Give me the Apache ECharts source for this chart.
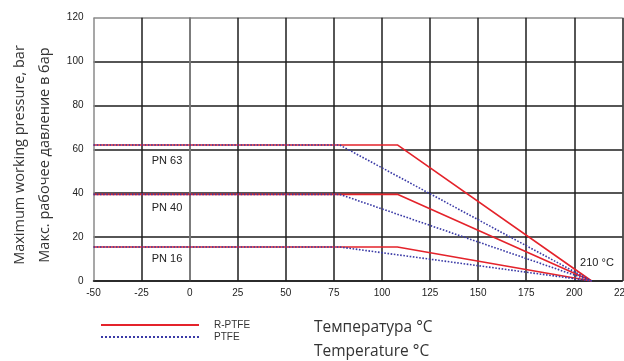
<!DOCTYPE html>
<html><head><meta charset="utf-8">
<script src="https://cdn.jsdelivr.net/npm/echarts@6/dist/echarts.min.js"></script>
<style>html,body{margin:0;padding:0;background:#fff}#c{width:624px;height:361px}</style>
</head><body><div id="c"></div>
<script>
// Data
const xTicks = [-50, -25, 0, 25, 50, 75, 100, 125, 150, 175, 200, 225];
const yTicks = [0, 20, 40, 60, 80, 100, 120];
const pnClasses = ['PN 63', 'PN 40', 'PN 16'];
const rptfe63 = [[-50, 62], [108, 62], [209, 0]];
const rptfe40 = [[-50, 39.5], [108, 39.5], [209, 0]];
const rptfe16 = [[-50, 15.5], [108, 15.5], [209, 0]];
const ptfe63 = [[-50, 62], [78, 62], [209, 0]];
const ptfe40 = [[-50, 39.5], [78, 39.5], [209, 0]];
const ptfe16 = [[-50, 15.5], [78, 15.5], [209, 0]];
const legendNames = ['R-PTFE', 'PTFE'];

const RED = '#e4232b', BLUE = '#3a3aa6';
const chart = echarts.init(document.getElementById('c'), null, {renderer: 'canvas'});
const lineFont = 'Liberation Sans, Arial, sans-serif';
function redSeries(d) {
  return {name: legendNames[0], type: 'line', data: d, symbol: 'none', showSymbol: false, z: 3,
    lineStyle: {color: RED, width: 1.6}, itemStyle: {color: RED}};
}
function blueSeries(d) {
  return {name: legendNames[1], type: 'line', data: d, symbol: 'none', showSymbol: false, z: 4,
    lineStyle: {color: BLUE, width: 1.6, type: 'dotted'}, itemStyle: {color: BLUE}};
}
const gridColY = yTicks.map((v, i) => i === yTicks.length - 1 ? '#8a8a8a' : '#1e1e1e');
const gridColX = xTicks.map((v, i) => i === 0 ? '#8a8a8a' : '#1e1e1e');
chart.setOption({
  animation: false,
  backgroundColor: '#fff',
  grid: {left: 93.5, right: 1.6, top: 17.7, bottom: 80, containLabel: false, outerBoundsMode: 'none'},
  xAxis: {
    type: 'value', min: xTicks[0], max: xTicks[xTicks.length - 1], interval: 25,
    axisLine: {show: true, lineStyle: {color: '#1e1e1e', width: 1.5}},
    axisTick: {show: false},
    splitLine: {show: true, lineStyle: {color: gridColX, width: 1.5}},
    axisLabel: {color: '#222', fontSize: 10, fontFamily: lineFont, margin: 7, showMaxLabel: true, hideOverlap: false}
  },
  yAxis: {
    type: 'value', min: yTicks[0], max: yTicks[yTicks.length - 1], interval: 20,
    axisLine: {show: true, lineStyle: {color: '#8a8a8a', width: 1.5}},
    axisTick: {show: false},
    splitLine: {show: true, lineStyle: {color: gridColY, width: 1.5}},
    axisLabel: {color: '#222', fontSize: 10, fontFamily: lineFont, margin: 10}
  },
  legend: {
    data: legendNames, orient: 'vertical', left: 95, top: 315,
    itemWidth: 98, itemHeight: 10, itemGap: 2,
    itemStyle: {opacity: 0},
    textStyle: {color: '#333', fontSize: 10, fontFamily: lineFont, padding: [0, 0, 0, 10]}
  },
  series: [redSeries(rptfe63), redSeries(rptfe40), redSeries(rptfe16),
           blueSeries(ptfe63), blueSeries(ptfe40), blueSeries(ptfe16)],
  graphic: [
    {type: 'text', x: 167, y: 161, style: {text: pnClasses[0], fill: '#222', font: '11px ' + lineFont, textAlign: 'center', textVerticalAlign: 'middle'}},
    {type: 'text', x: 167, y: 208, style: {text: pnClasses[1], fill: '#222', font: '11px ' + lineFont, textAlign: 'center', textVerticalAlign: 'middle'}},
    {type: 'text', x: 167, y: 259, style: {text: pnClasses[2], fill: '#222', font: '11px ' + lineFont, textAlign: 'center', textVerticalAlign: 'middle'}},
    {type: 'text', x: 597, y: 263, style: {text: '210 °C', fill: '#222', font: '11px ' + lineFont, textAlign: 'center', textVerticalAlign: 'middle'}},
    {type: 'text', x: 20, y: 155, rotation: Math.PI / 2, style: {text: 'Maximum working pressure, bar', fill: '#333', font: '14.5px "Open Sans", "Noto Sans", sans-serif', textAlign: 'center', textVerticalAlign: 'middle'}},
    {type: 'text', x: 45, y: 155, rotation: Math.PI / 2, style: {text: 'Макс. рабочее давление в бар', fill: '#333', font: '14.5px "Open Sans", "Noto Sans", sans-serif', textAlign: 'center', textVerticalAlign: 'middle'}},
    {type: 'text', x: 314, y: 328, style: {text: 'Температура °C', fill: '#333', font: '15.5px "Open Sans", "Noto Sans", sans-serif', textAlign: 'left', textVerticalAlign: 'middle'}},
    {type: 'text', x: 314, y: 352, style: {text: 'Temperature °C', fill: '#333', font: '15.5px "Open Sans", "Noto Sans", sans-serif', textAlign: 'left', textVerticalAlign: 'middle'}}
  ]
});
</script></body></html>
